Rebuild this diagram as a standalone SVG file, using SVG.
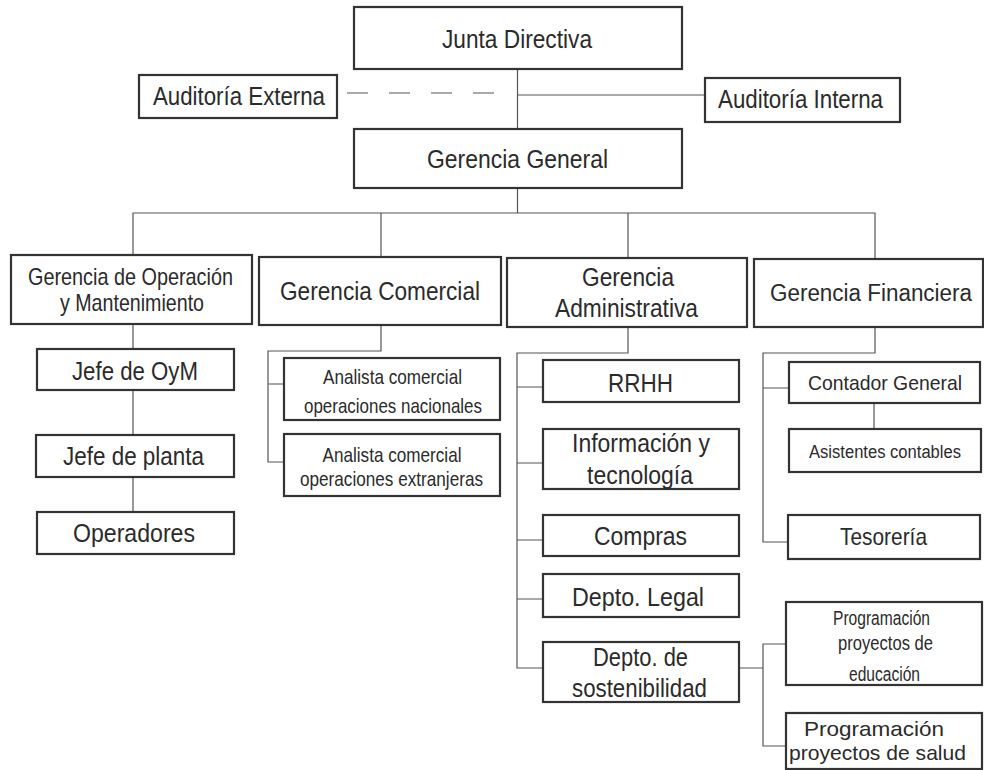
<svg xmlns="http://www.w3.org/2000/svg" width="984" height="770" viewBox="0 0 984 770">
<style>
.bx{fill:#fff;stroke:#333;stroke-width:2.2}
.ln{fill:none;stroke:#555;stroke-width:1.2}
text{font-family:"Liberation Sans Narrow","Liberation Sans",Arial,sans-serif;fill:#2b2b2b;text-anchor:middle}
.l{font-size:26px}.m{font-size:24px}.s{font-size:21px}.xs{font-size:20px}
</style>
<rect width="984" height="770" fill="#fff"/>
<g id="connectors">
<line class="ln" x1="517.5" y1="69" x2="517.5" y2="129"/>
<line class="ln" x1="347" y1="93" x2="502" y2="93" stroke-dasharray="21 21"/>
<line class="ln" x1="517.5" y1="95" x2="705" y2="95"/>
<line class="ln" x1="517.5" y1="188" x2="517.5" y2="213"/>
<path class="ln" d="M133 255V213H875V259M381 213V257M628 213V258"/>
<path class="ln" d="M133 324V349M133 390V435M133 477V512"/>
<path class="ln" d="M381 325V351H268V462H284M268 384H284"/>
<path class="ln" d="M628 327V353H517V668H543M517 387H543M517 463H543M517 540H543M517 599H543"/>
<path class="ln" d="M875 327V353H763V542H788M763 388H789M874 403V429"/>
<path class="ln" d="M739 668H763M786 644H763V746H786"/>
</g>
<g id="junta"><rect class="bx" x="354" y="7" width="328" height="62"/><text class="l" x="517" y="48" textLength="150" lengthAdjust="spacingAndGlyphs">Junta Directiva</text></g>
<g id="aud-ext"><rect class="bx" x="139" y="75" width="198" height="43"/><text class="l" x="239" y="105" textLength="172" lengthAdjust="spacingAndGlyphs">Auditoría Externa</text></g>
<g id="aud-int"><rect class="bx" x="705" y="78" width="195" height="44"/><text class="l" x="800.5" y="108" textLength="165" lengthAdjust="spacingAndGlyphs">Auditoría Interna</text></g>
<g id="ger-gen"><rect class="bx" x="354" y="129" width="328" height="59"/><text class="l" x="517.5" y="168" textLength="181" lengthAdjust="spacingAndGlyphs">Gerencia General</text></g>
<g id="ger-op"><rect class="bx" x="11" y="255" width="241" height="69"/><text class="m" x="130.5" y="285" textLength="205" lengthAdjust="spacingAndGlyphs">Gerencia de Operación</text><text class="m" x="132" y="311" textLength="144" lengthAdjust="spacingAndGlyphs">y Mantenimiento</text></g>
<g id="ger-com"><rect class="bx" x="259" y="257" width="242" height="68"/><text class="l" x="380" y="300" textLength="200" lengthAdjust="spacingAndGlyphs">Gerencia Comercial</text></g>
<g id="ger-adm"><rect class="bx" x="507" y="258" width="240" height="69"/><text class="l" x="628" y="286" textLength="92" lengthAdjust="spacingAndGlyphs">Gerencia</text><text class="l" x="626.5" y="317" textLength="143" lengthAdjust="spacingAndGlyphs">Administrativa</text></g>
<g id="ger-fin"><rect class="bx" x="754" y="259" width="229" height="68"/><text x="871" y="301" font-size="23" textLength="202" lengthAdjust="spacingAndGlyphs">Gerencia Financiera</text></g>
<g id="jefe-oym"><rect class="bx" x="37" y="349" width="197" height="41"/><text class="l" x="135" y="380" textLength="126" lengthAdjust="spacingAndGlyphs">Jefe de OyM</text></g>
<g id="jefe-planta"><rect class="bx" x="36" y="435" width="198" height="42"/><text class="l" x="133.5" y="465" textLength="141" lengthAdjust="spacingAndGlyphs">Jefe de planta</text></g>
<g id="operadores"><rect class="bx" x="37" y="512" width="197" height="42"/><text class="l" x="134" y="542" textLength="122" lengthAdjust="spacingAndGlyphs">Operadores</text></g>
<g id="analista-nac"><rect class="bx" x="284" y="358" width="216" height="62"/><text class="s" x="392.5" y="384" textLength="139" lengthAdjust="spacingAndGlyphs">Analista comercial</text><text class="s" x="393" y="413" textLength="178" lengthAdjust="spacingAndGlyphs">operaciones nacionales</text></g>
<g id="analista-ext"><rect class="bx" x="284" y="434" width="216" height="62"/><text class="s" x="392" y="462" textLength="139" lengthAdjust="spacingAndGlyphs">Analista comercial</text><text class="s" x="391.5" y="486" textLength="183" lengthAdjust="spacingAndGlyphs">operaciones extranjeras</text></g>
<g id="rrhh"><rect class="bx" x="543" y="360" width="196" height="42"/><text class="l" x="640.5" y="392" textLength="65" lengthAdjust="spacingAndGlyphs">RRHH</text></g>
<g id="info-tec"><rect class="bx" x="543" y="429" width="196" height="60"/><text class="l" x="641" y="452" textLength="138" lengthAdjust="spacingAndGlyphs">Información y</text><text class="l" x="640" y="484" textLength="106" lengthAdjust="spacingAndGlyphs">tecnología</text></g>
<g id="compras"><rect class="bx" x="543" y="515" width="196" height="41"/><text class="l" x="640.5" y="545" textLength="93" lengthAdjust="spacingAndGlyphs">Compras</text></g>
<g id="legal"><rect class="bx" x="543" y="574" width="196" height="43"/><text class="l" x="638" y="606" textLength="132" lengthAdjust="spacingAndGlyphs">Depto. Legal</text></g>
<g id="sostenibilidad"><rect class="bx" x="543" y="642" width="196" height="60"/><text class="l" x="640.5" y="666" textLength="95" lengthAdjust="spacingAndGlyphs">Depto. de</text><text class="l" x="639.5" y="697" textLength="135" lengthAdjust="spacingAndGlyphs">sostenibilidad</text></g>
<g id="contador"><rect class="bx" x="789" y="362" width="191" height="41"/><text x="885" y="390" font-size="21" textLength="154" lengthAdjust="spacingAndGlyphs">Contador General</text></g>
<g id="asistentes"><rect class="bx" x="789" y="429" width="192" height="43"/><text x="885" y="458" font-size="18" textLength="152" lengthAdjust="spacingAndGlyphs">Asistentes contables</text></g>
<g id="tesoreria"><rect class="bx" x="788" y="515" width="192" height="44"/><text class="m" x="883.5" y="545" textLength="87" lengthAdjust="spacingAndGlyphs">Tesorería</text></g>
<g id="prog-edu"><rect class="bx" x="786" y="602" width="196" height="83"/><text class="xs" x="881.5" y="625" textLength="97" lengthAdjust="spacingAndGlyphs">Programación</text><text class="xs" x="885.5" y="650" textLength="95" lengthAdjust="spacingAndGlyphs">proyectos de</text><text class="xs" x="884.5" y="681" textLength="71" lengthAdjust="spacingAndGlyphs">educación</text></g>
<g id="prog-salud"><rect class="bx" x="786" y="713" width="196" height="56"/><text x="874" y="736" font-size="21" textLength="140" lengthAdjust="spacingAndGlyphs">Programación</text><text x="877.5" y="760" font-size="21" textLength="177" lengthAdjust="spacingAndGlyphs">proyectos de salud</text></g>
</svg>
